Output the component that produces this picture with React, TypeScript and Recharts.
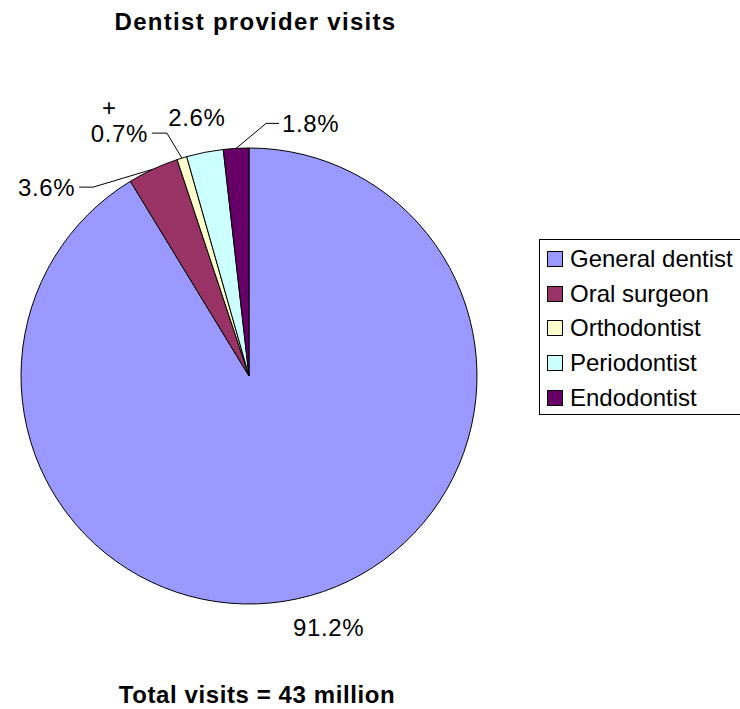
import { PieChart, Pie, Cell, Legend } from 'recharts'

const providers = ['General dentist', 'Oral surgeon', 'Orthodontist', 'Periodontist', 'Endodontist']
const shares = [91.2, 3.6, 0.7, 2.6, 1.8]
const colors = ['#9999FF', '#993366', '#FFFFCC', '#CCFFFF', '#660066']

const data = providers.map((name, i) => ({ name, value: shares[i] }))

// where each percentage sits relative to its slice edge (leader lines drawn by hand)
const labelLayout: any[] = [
  { dx: 18, dy: 40, arm: 0, line: false },
  { dx: -60, dy: 18, arm: -14, line: true },
  { dx: -15, dy: -25, arm: -15, line: true, mark: '+' },
  { dx: -8, dy: -26, arm: 0, line: false },
  { dx: 30, dy: -25, arm: 13, line: true },
]

const FONT = '"Liberation Sans", Arial, sans-serif'
const RAD = Math.PI / 180

const renderLabel = (props: any) => {
  const { cx, cy, midAngle, outerRadius, index, value } = props
  const lay = labelLayout[index]
  const ex = cx + outerRadius * Math.cos(-midAngle * RAD)
  const ey = cy + outerRadius * Math.sin(-midAngle * RAD)
  const text = `${Number(value).toFixed(1)}%`
  if (!lay.line) {
    return (
      <text key={`l${index}`} x={ex + lay.dx} y={ey + lay.dy} textAnchor="middle"
        fontSize={24} fontFamily={FONT} letterSpacing={0.6} fill="#000">{text}</text>
    )
  }
  const bx = ex + lay.dx
  const by = ey + lay.dy
  const tx = bx + lay.arm
  const left = lay.arm < 0
  return (
    <g key={`l${index}`}>
      <polyline points={`${ex},${ey} ${bx},${by} ${tx},${by}`} fill="none" stroke="#000" strokeWidth={1} />
      <text x={left ? tx - 4 : tx + 3} y={by + 9} textAnchor={left ? 'end' : 'start'}
        fontSize={24} fontFamily={FONT} letterSpacing={0.6} fill="#000">{text}</text>
      {lay.mark && (
        <text x={tx - 43} y={by - 17} textAnchor="middle" fontSize={24} fontFamily={FONT} fill="#000">{lay.mark}</text>
      )}
    </g>
  )
}

const LegendBox = () => (
  <div style={{
    border: '1px solid #000', width: 220, height: 176, boxSizing: 'border-box',
    paddingTop: 2, paddingLeft: 7, background: '#fff',
  }}>
    {data.map((d, i) => (
      <div key={d.name} style={{ display: 'flex', alignItems: 'center', height: 34.6 }}>
        <span style={{
          width: 14, height: 14, background: colors[i], border: '1px solid #000',
          display: 'inline-block', marginRight: 7,
        }} />
        <span style={{ fontFamily: FONT, fontSize: 24, color: '#000', whiteSpace: 'nowrap' }}>{d.name}</span>
      </div>
    ))}
  </div>
)

export default function App() {
  return (
    <div style={{ position: 'absolute', left: 0, top: 0, width: 740, height: 709, overflow: 'hidden', background: '#fff' }}>
      <div style={{
        position: 'absolute', left: 0, width: 511, top: 10, textAlign: 'center',
        fontFamily: FONT, fontWeight: 'bold', fontSize: 24, lineHeight: '24px', letterSpacing: 1.3,
      }}>Dentist provider visits</div>
      <PieChart width={740} height={709} margin={{ top: 0, right: 0, bottom: 0, left: 0 }}>
        <Pie data={data} dataKey="value" nameKey="name" cx={249} cy={376} outerRadius={228}
          startAngle={90} endAngle={-270} stroke="#000" strokeWidth={1}
          label={renderLabel} labelLine={false} isAnimationActive={false}>
          {data.map((d, i) => <Cell key={d.name} fill={colors[i]} />)}
        </Pie>
        <Legend layout="vertical" align="right" verticalAlign="top" content={<LegendBox />}
          wrapperStyle={{ left: 539, top: 239, width: 220 }} />
      </PieChart>
      <div style={{
        position: 'absolute', left: 0, width: 514, top: 683, textAlign: 'center',
        fontFamily: FONT, fontWeight: 'bold', fontSize: 24, lineHeight: '24px', letterSpacing: 0.6,
      }}>Total visits = 43 million</div>
    </div>
  )
}
